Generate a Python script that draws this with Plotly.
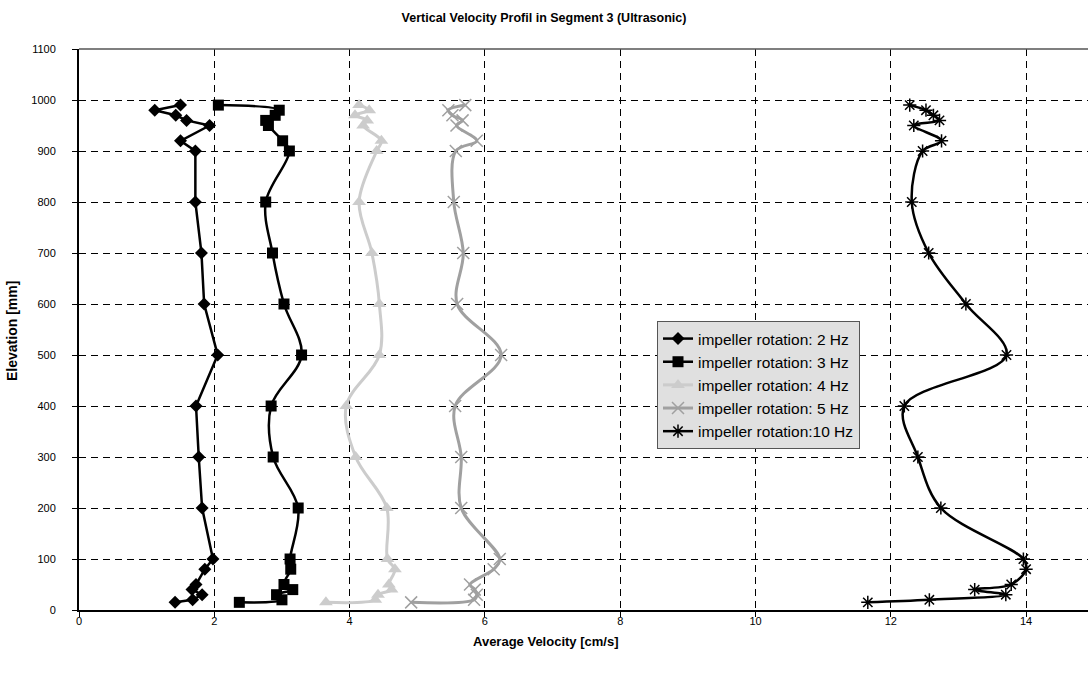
import plotly.graph_objects as go

# Elevation of each measuring point [mm]
elevation = [15, 20, 30, 40, 50, 80, 100, 200, 300, 400, 500, 600, 700, 800,
             900, 920, 950, 960, 970, 980, 990]

# Average vertical velocity [cm/s] per impeller rotation
v_2hz = [1.42, 1.68, 1.82, 1.67, 1.73, 1.86, 1.98, 1.82, 1.77, 1.73, 2.05,
         1.85, 1.81, 1.72, 1.72, 1.50, 1.93, 1.59, 1.43, 1.12, 1.50]
v_3hz = [2.37, 3.00, 2.92, 3.16, 3.03, 3.13, 3.12, 3.24, 2.87, 2.84, 3.29,
         3.03, 2.86, 2.76, 3.11, 3.01, 2.80, 2.76, 2.90, 2.96, 2.06]
v_4hz = [3.65, 4.38, 4.42, 4.62, 4.58, 4.67, 4.56, 4.55, 4.09, 3.95, 4.44,
         4.44, 4.33, 4.14, 4.40, 4.47, 4.20, 4.26, 4.08, 4.29, 4.14]
v_5hz = [4.91, 5.84, 5.88, 5.85, 5.78, 6.13, 6.22, 5.65, 5.65, 5.56, 6.24,
         5.59, 5.68, 5.54, 5.57, 5.88, 5.58, 5.67, 5.52, 5.46, 5.71]
v_10hz = [11.66, 12.57, 13.70, 13.24, 13.78, 14.00, 13.96, 12.74, 12.40, 12.20,
          13.71, 13.11, 12.56, 12.31, 12.47, 12.75, 12.34, 12.72, 12.63, 12.52, 12.28]

series_names = ["impeller rotation: 2 Hz", "impeller rotation: 3 Hz",
                "impeller rotation: 4 Hz", "impeller rotation: 5 Hz",
                "impeller rotation:10 Hz"]

x_ticks = [0, 2, 4, 6, 8, 10, 12, 14]
y_ticks = list(range(0, 1101, 100))

FONT = "Arial, Liberation Sans, sans-serif"
GRID_DASH = "7px,5px"

fig = go.Figure()

styles = [
    (v_2hz, dict(color="black", width=2.5), "linear", 0,
     dict(symbol="diamond", size=10, color="black")),
    (v_3hz, dict(color="black", width=2.5), "spline", 1.0,
     dict(symbol="square", size=11, color="black")),
    (v_4hz, dict(color="#cccccc", width=3), "spline", 1.0,
     dict(symbol="triangle-up", size=12, color="#cccccc")),
    (v_5hz, dict(color="#a0a0a0", width=3), "spline", 1.0,
     dict(symbol="x-thin-open", size=12, color="#a0a0a0",
          line=dict(color="#a0a0a0", width=1.5))),
    (v_10hz, dict(color="black", width=2.5), "spline", 1.0,
     dict(symbol="asterisk-open", size=11, color="black",
          line=dict(color="black", width=1.5))),
]

for name, (vals, line, shape, smooth, marker) in zip(series_names, styles):
    line = dict(line, shape=shape)
    if shape == "spline":
        line["smoothing"] = smooth
    fig.add_trace(go.Scatter(x=vals, y=elevation, mode="lines+markers",
                             name=name, line=line, marker=marker))

fig.update_layout(
    width=1088, height=673,
    margin=dict(l=79, r=0, t=49, b=63),
    paper_bgcolor="white", plot_bgcolor="white",
    font=dict(family=FONT, color="black", size=11),
    title=dict(text="<b>Vertical Velocity Profil in Segment 3 (Ultrasonic)</b>",
               x=0.5, xanchor="center", y=1 - 18 / 673, yanchor="middle",
               font=dict(size=12.5, family=FONT, color="black")),
    showlegend=True,
    legend=dict(x=(657 - 79) / 1009, y=(610 - 321) / 561, xanchor="left", yanchor="top",
                bgcolor="#e0e0e0", bordercolor="#555555", borderwidth=1,
                font=dict(size=15.5, family=FONT, color="black"),
                tracegroupgap=0),
)

fig.update_xaxes(range=[0, 1009 / 67.65], tickvals=x_ticks,
                 showgrid=True, gridcolor="black", gridwidth=1, griddash=GRID_DASH,
                 showline=True, linecolor="black", linewidth=2,
                 ticks="outside", ticklen=5, tickcolor="black",
                 ticklabelstandoff=-5,
                 zeroline=False, tickfont=dict(size=11, family=FONT))
fig.update_yaxes(range=[0, 1100], tickvals=y_ticks,
                 showgrid=True, gridcolor="black", gridwidth=1, griddash=GRID_DASH,
                 showline=True, linecolor="black", linewidth=2,
                 ticks="outside", ticklen=5, tickcolor="black",
                 ticklabelstandoff=14,
                 zeroline=False, tickfont=dict(size=11, family=FONT))

# Plot-area top border
fig.add_shape(type="line", xref="paper", yref="paper", x0=0, x1=1, y0=1, y1=1,
              line=dict(color="#555555", width=1.5))

# Axis titles
fig.add_annotation(text="<b>Average Velocity [cm/s]</b>", xref="paper", yref="paper",
                   x=(545 - 79) / 1009, y=(610 - 641) / 561, showarrow=False,
                   xanchor="center", yanchor="middle",
                   font=dict(size=13, family=FONT, color="black"))
fig.add_annotation(text="<b>Elevation [mm]</b>", xref="paper", yref="paper",
                   x=(12 - 79) / 1009, y=(610 - 331) / 561, showarrow=False,
                   xanchor="center", yanchor="middle", textangle=-90,
                   font=dict(size=14, family=FONT, color="black"))

fig.write_html("out.html")
